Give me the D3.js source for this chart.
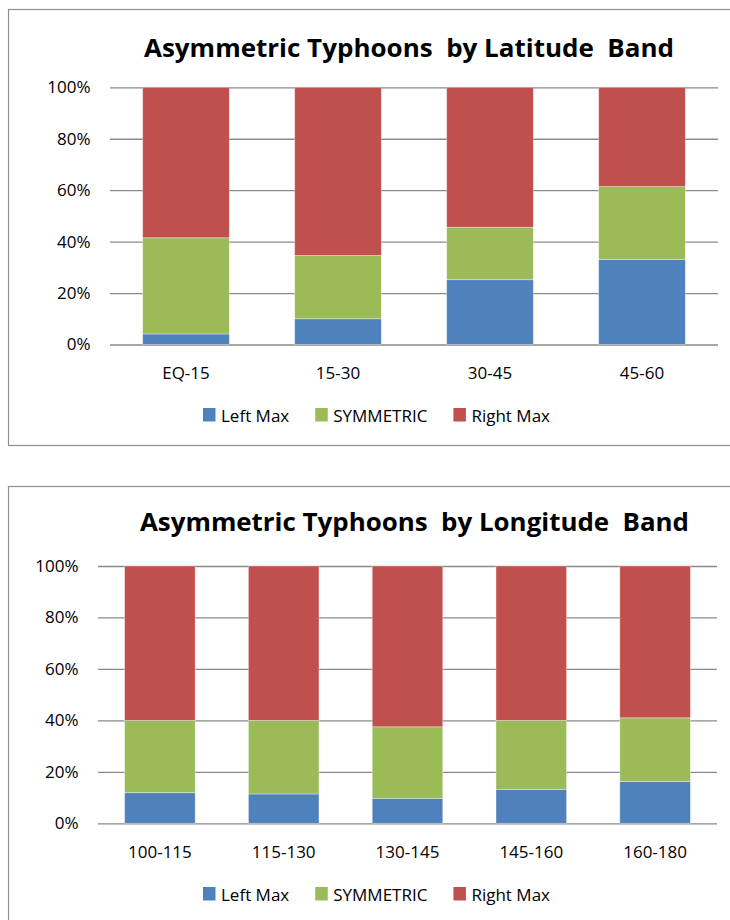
<!DOCTYPE html>
<html>
<head>
<meta charset="utf-8">
<script src="https://cdn.jsdelivr.net/npm/d3@7"></script>
<style>
  html, body { margin: 0; padding: 0; background: #fff; }
  svg { display: block; }
  text { font-family: "Open Sans", "Noto Sans", sans-serif; fill: #000; }
</style>
</head>
<body>
<svg id="chart" width="730" height="920"></svg>
<script>
// ---------- data ----------
const seriesKeys = ["Left Max", "SYMMETRIC", "Right Max"];
const seriesColors = ["#4F81BD", "#9BBB59", "#C0504D"];
const yTicks = [0, 0.2, 0.4, 0.6, 0.8, 1.0];

const latTitle = "Asymmetric Typhoons  by Latitude  Band";
const latBands = ["EQ-15", "15-30", "30-45", "45-60"];
const latLeftMax = [4.1, 10.0, 25.2, 33.1];
const latSymmetric = [37.4, 24.6, 20.4, 28.3];
const latRightMax = [58.5, 65.4, 54.4, 38.6];

const lonTitle = "Asymmetric Typhoons  by Longitude  Band";
const lonBands = ["100-115", "115-130", "130-145", "145-160", "160-180"];
const lonLeftMax = [11.9, 11.4, 9.7, 13.2, 16.2];
const lonSymmetric = [28.1, 28.6, 27.8, 26.8, 24.8];
const lonRightMax = [60.0, 60.0, 62.5, 60.0, 59.0];

// ---------- drawing ----------
const svg = d3.select("#chart");

function drawChart(cfg) {
  const g = svg.append("g");
  // frame
  g.append("rect")
    .attr("x", cfg.frame[0]).attr("y", cfg.frame[1])
    .attr("width", cfg.frame[2]).attr("height", cfg.frame[3])
    .attr("fill", "#fff").attr("stroke", "#8f8f8f").attr("stroke-width", 1.2);

  // title
  const t = g.append("text")
    .attr("x", cfg.titleX).attr("y", cfg.titleY)
    .style("white-space", "pre")
    .attr("font-size", 25).attr("font-weight", "bold")
    .text(cfg.title);
  t.attr("textLength", cfg.titleW).attr("lengthAdjust", "spacingAndGlyphs");

  const rows = cfg.bands.map((b, i) => ({
    band: b,
    "Left Max": cfg.left[i] / 100,
    "SYMMETRIC": cfg.sym[i] / 100,
    "Right Max": cfg.right[i] / 100
  }));
  const stacked = d3.stack().keys(seriesKeys)(rows);

  const x = d3.scaleBand().domain(cfg.bands)
    .range([cfg.plotX0, cfg.plotX1]).paddingInner(0.43).paddingOuter(0.215);
  const y = d3.scaleLinear().domain([0, 1]).range([cfg.plotY0, cfg.plotY1]);

  // y axis + gridlines
  const yAxis = d3.axisLeft(y).tickValues(yTicks)
    .tickFormat(d3.format(".0%"))
    .tickSize(-(cfg.plotX1 - cfg.plotX0)).tickPadding(19.5);
  const ya = g.append("g").attr("transform", `translate(${cfg.plotX0},0)`).call(yAxis);
  ya.select(".domain").remove();
  ya.selectAll(".tick line").attr("stroke", "#8a8a8a").attr("stroke-width", 1.3);
  ya.selectAll(".tick text").attr("font-size", 17).attr("fill", "#000")
    .attr("font-family", "'Open Sans', 'Noto Sans', sans-serif");

  // bars
  const color = d3.scaleOrdinal().domain(seriesKeys).range(seriesColors);
  g.append("g").selectAll("g").data(stacked).join("g")
    .attr("fill", d => color(d.key))
    .selectAll("rect").data(d => d).join("rect")
      .attr("x", d => x(d.data.band))
      .attr("width", x.bandwidth())
      .attr("y", d => y(d[1]))
      .attr("height", d => y(d[0]) - y(d[1]))
      .attr("stroke", "#ffffff").attr("stroke-opacity", 0.45).attr("stroke-width", 0.8);

  // category labels
  g.append("g").selectAll("text").data(cfg.bands).join("text")
    .attr("x", d => x(d) + x.bandwidth() / 2)
    .attr("y", cfg.catY)
    .attr("text-anchor", "middle")
    .attr("font-size", 17)
    .text(d => d);

  // legend
  const lg = g.append("g");
  let lx = cfg.legendX;
  seriesKeys.forEach((k, i) => {
    lg.append("rect")
      .attr("x", lx).attr("y", cfg.legendY - 13.5)
      .attr("width", 12.5).attr("height", 13.5)
      .attr("fill", seriesColors[i]);
    const tt = lg.append("text")
      .attr("x", lx + 18).attr("y", cfg.legendY)
      .attr("font-size", 17)
      .text(k);
    const w = tt.node().getComputedTextLength();
    lx = lx + 18 + w + 26;
  });
}

drawChart({
  frame: [8.5, 9.5, 760, 436],
  title: latTitle, titleX: 144, titleY: 57.3, titleW: 530,
  bands: latBands, left: latLeftMax, sym: latSymmetric, right: latRightMax,
  plotX0: 110, plotX1: 718, plotY0: 344.5, plotY1: 87.3,
  catY: 379, legendX: 203, legendY: 421.5
});

drawChart({
  frame: [8.5, 486.5, 760, 500],
  title: lonTitle, titleX: 140, titleY: 531, titleW: 549,
  bands: lonBands, left: lonLeftMax, sym: lonSymmetric, right: lonRightMax,
  plotX0: 98, plotX1: 717, plotY0: 823.3, plotY1: 566,
  catY: 858, legendX: 203, legendY: 900.5
});
</script>
</body>
</html>
